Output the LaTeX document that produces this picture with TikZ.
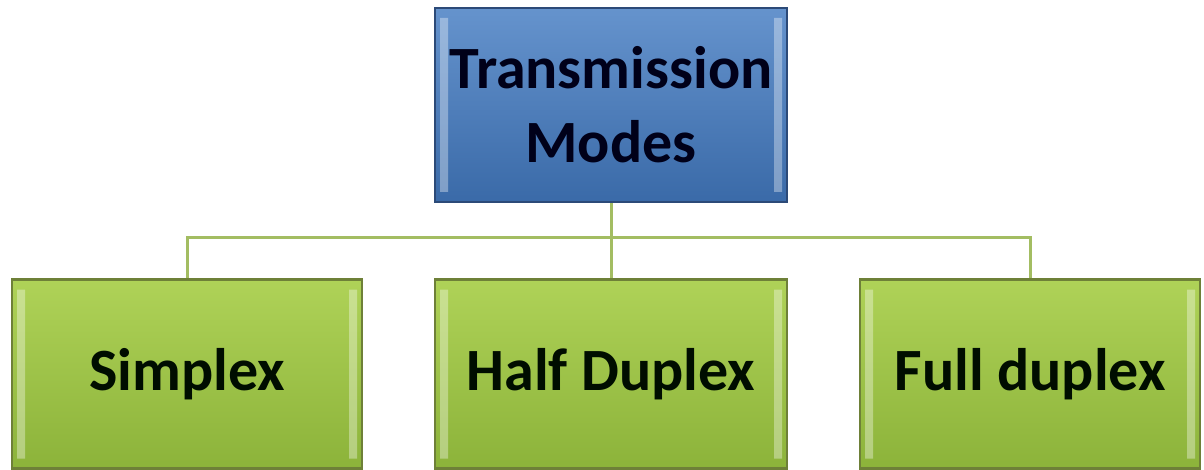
\documentclass[tikz,border=0pt]{standalone}
\usepackage{fontspec}
\setmainfont{Carlito}
\usepackage{tikz}

\definecolor{modeblue}{HTML}{4A80C4}
\definecolor{modebluedark}{HTML}{3A6AA8}
\definecolor{modeblueline}{HTML}{2C4A78}
\definecolor{modegreen}{HTML}{A6CD45}
\definecolor{modegreendark}{HTML}{8CB33A}
\definecolor{modegreenline}{HTML}{6E8038}
\definecolor{linkgreen}{HTML}{A3BD62}

\tikzset{
    bevel/.style={
        path picture={
            \fill[white, opacity=0.35]
                ([xshift=5pt, yshift=-10pt]path picture bounding box.north west)
                rectangle ([xshift=13pt, yshift=10pt]path picture bounding box.south west)
                ([xshift=-5pt, yshift=-10pt]path picture bounding box.north east)
                rectangle ([xshift=-13pt, yshift=10pt]path picture bounding box.south east);
        }},
    modebox/.style={bevel, draw=modeblueline, line width=2.5pt,
        top color=modeblue!85!white, bottom color=modebluedark,
        minimum width=352pt, minimum height=194pt, align=center,
        font=\bfseries\fontsize{60}{74}\selectfont, text=black!90!blue},
    kindbox/.style={bevel, draw=modegreenline, line width=2.5pt,
        top color=modegreen!90!white, bottom color=modegreendark,
        minimum height=189pt, align=center,
        font=\bfseries\fontsize{60}{74}\selectfont, text=black!95!green},
    link/.style={linkgreen, line width=3pt}
}

\begin{document}
\begin{tikzpicture}[x=1pt, y=-1pt]

        \useasboundingbox (0,0) rectangle (1204,470);

        \node[modebox] (modes) at (611,105) {Transmission\\Modes};

        \node[kindbox, minimum width=350pt] (simplex) at (187,374) {Simplex};
        \node[kindbox, minimum width=352pt] (half) at (611,374) {Half Duplex};
        \node[kindbox, minimum width=340pt] (full) at (1030,374) {Full duplex};

        \coordinate (bus) at (611,238);

        \draw[link]
            (modes.south) -- (half.north)
            (simplex.north) |- (bus) -| (full.north);

\end{tikzpicture}
\end{document}
